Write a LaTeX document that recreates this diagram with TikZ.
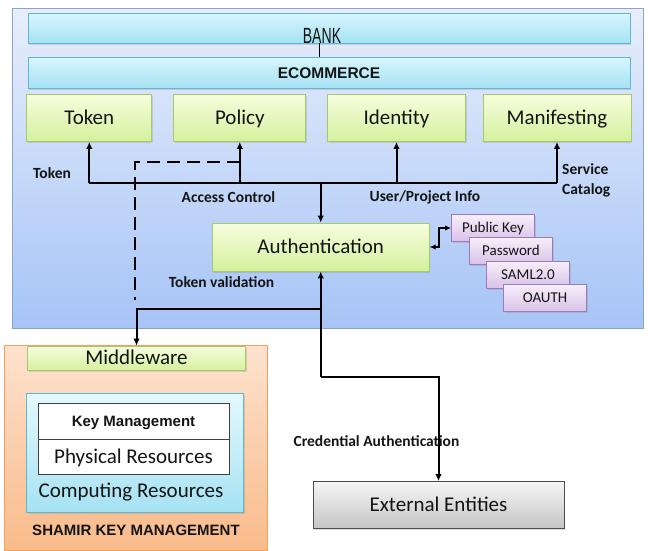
\documentclass[tikz,border=0pt]{standalone}
\usepackage{fontspec}
\setmainfont{Carlito}
\newfontfamily\arialfont{Liberation Sans}
\usetikzlibrary{arrows.meta,shadows}

\definecolor{panelTop}{HTML}{E8EEFB}
\definecolor{panelBot}{HTML}{A6C4F6}
\definecolor{panelLine}{HTML}{8CA4CC}
\definecolor{cyanTop}{HTML}{D8F6FD}
\definecolor{cyanBot}{HTML}{A6E2F3}
\definecolor{cyanLine}{HTML}{5FB8D0}
\definecolor{greenTop}{HTML}{F6FDDD}
\definecolor{greenBot}{HTML}{D5F09E}
\definecolor{greenLine}{HTML}{A8C86A}
\definecolor{purpTop}{HTML}{F7EEFA}
\definecolor{purpBot}{HTML}{D8C2E8}
\definecolor{purpLine}{HTML}{9C7BB8}
\definecolor{orTop}{HTML}{FDE2CE}
\definecolor{orBot}{HTML}{F9BB8A}
\definecolor{orLine}{HTML}{F3A05C}
\definecolor{greyTop}{HTML}{F6F6F6}
\definecolor{greyBot}{HTML}{C4C4C4}
\definecolor{ink}{HTML}{141414}

\begin{document}
\begin{tikzpicture}[x=1pt,y=-1pt,
  every node/.style={inner sep=0pt, text=ink},
  soft/.style={drop shadow={shadow xshift=1.2pt, shadow yshift=-1.5pt, opacity=0.25}},
  bigtext/.style={font=\fontsize{21}{25}\selectfont, text height=13.5pt, text depth=0pt},
  panelbox/.style={draw=panelLine, line width=1pt, top color=panelTop, bottom color=panelBot},
  cyanbar/.style={draw=cyanLine, line width=0.8pt, top color=cyanTop, bottom color=cyanBot, soft},
  greenbox/.style={draw=greenLine, line width=0.8pt, top color=greenTop, bottom color=greenBot, soft, bigtext},
  purplebox/.style={draw=purpLine, line width=0.8pt, top color=purpTop, bottom color=purpBot, soft,
    minimum width=83, minimum height=27, font=\fontsize{15}{18}\selectfont, text height=9.7pt, text depth=0pt},
  orangebox/.style={draw=orLine, line width=0.8pt, top color=orTop, bottom color=orBot},
  greybox/.style={draw=black!70, line width=0.8pt, top color=greyTop, bottom color=greyBot, soft, bigtext},
  lbl/.style={font=\fontsize{15.5}{18}\selectfont\bfseries},
  wire/.style={line width=2pt, draw=black},
  arr/.style={wire, -{Latex[length=7pt,width=6.5pt]}},
  dwire/.style={line width=2.2pt, dash pattern=on 13pt off 7pt}
]
\useasboundingbox (0,0) rectangle (648,550);

% upper panel
\node[panelbox, minimum width=631, minimum height=320] (panel) at (327.5,168) {};

\node[cyanbar, minimum width=602, minimum height=30] (bank) at (329,28) {};
\node[anchor=base] (banklbl) at (322,43) {\arialfont\fontsize{22}{24}\selectfont\scalebox{0.64}[1]{BANK}};
\node[cyanbar, minimum width=602, minimum height=31, font=\arialfont\fontsize{15.5}{18}\selectfont\bfseries,
  text height=11pt, text depth=0pt] (ecom) at (329,72.5) {ECOMMERCE};
\draw[line width=1pt] (319,43) -- (319,57);

% service boxes
\node[greenbox, minimum width=125, minimum height=47] (token) at (89.3,118) {Token};
\node[greenbox, minimum width=132, minimum height=47] (policy) at (239.8,118) {Policy};
\node[greenbox, minimum width=138, minimum height=47] (ident) at (396.5,118) {Identity};
\node[greenbox, minimum width=148, minimum height=47] (manif) at (557,118) {Manifesting};

\node[greenbox, minimum width=217, minimum height=48] (auth) at (320.7,247) {Authentication};

% credential types
\node[purplebox] (pk) at (493,228) {Public Key};
\node[purplebox] (pw) at (511,251) {Password};
\node[purplebox] (saml) at (528,274.5) {SAML2.0};
\node[purplebox] (oauth) at (545,298) {OAUTH};

% shamir panel
\node[orangebox, minimum width=263, minimum height=205] (shamir) at (135.5,447.5) {};
\node[greenbox, minimum width=218, minimum height=24] (mid) at (136.5,358) {Middleware};
\node[draw=cyanLine, line width=0.8pt, top color=cyanTop!70!white, bottom color=cyanBot, soft,
  minimum width=217, minimum height=119] (comp) at (135.3,452.5) {};
\node[draw=black!75, fill=white, line width=0.8pt, minimum width=191, minimum height=36,
  font=\arialfont\fontsize{15}{18}\selectfont\bfseries, text height=10.7pt, text depth=0pt] (keym) at (133.5,421) {Key Management};
\node[draw=black!75, fill=white, line width=0.8pt, minimum width=191, minimum height=35, bigtext] (phys) at (133.5,456.5) {Physical Resources};
\node[bigtext] (complbl) at (131,491) {Computing Resources};
\node[font=\arialfont\fontsize{15}{18}\selectfont\bfseries] (shamirlbl) at (136,530.5) {SHAMIR KEY MANAGEMENT};

\node[greybox, minimum width=251, minimum height=47] (ext) at (438.5,505) {External Entities};

% connector labels
\node[lbl] (ltoken) at (52,173) {Token};
\node[lbl] (lacc) at (228.5,197) {Access Control};
\node[lbl] (luser) at (425,197) {User/Project Info};
\node[lbl, align=left, anchor=west, font=\fontsize{15.5}{20}\selectfont\bfseries] (lserv) at (562,180) {Service\\Catalog};
\node[lbl] (lval) at (221.5,282) {Token validation};
\node[lbl] (lcred) at (376.5,441) {Credential Authentication};

% connectors
\coordinate (bus) at (320.7,182.5);
\draw[wire] (token.south |- bus) -- (manif.south |- bus);
\draw[arr] (token.south |- bus) -- (token.south);
\draw[arr] (policy.south |- bus) -- (policy.south);
\draw[arr] (ident.south |- bus) -- (ident.south);
\draw[arr] (manif.south |- bus) -- (manif.south);
\draw[arr] (bus) -- (auth.north);

\coordinate (dcorner) at (135,162);
\draw[dwire] (policy.south |- dcorner) -- (dcorner) -- (135,300);

\coordinate (j1) at (320.7,309);
\coordinate (j2) at (320.7,377);
\draw[arr] (j2) -- (auth.south);
\draw[arr] (j1) -| (mid.north);
\draw[arr] (j2) -| (ext.north);

\draw[wire, line width=1.8pt, {Latex[length=6pt,width=5.5pt]}-{Latex[length=6pt,width=5.5pt]}]
  (auth.east) -- ++(9,0) |- (pk.west);
\end{tikzpicture}
\end{document}
